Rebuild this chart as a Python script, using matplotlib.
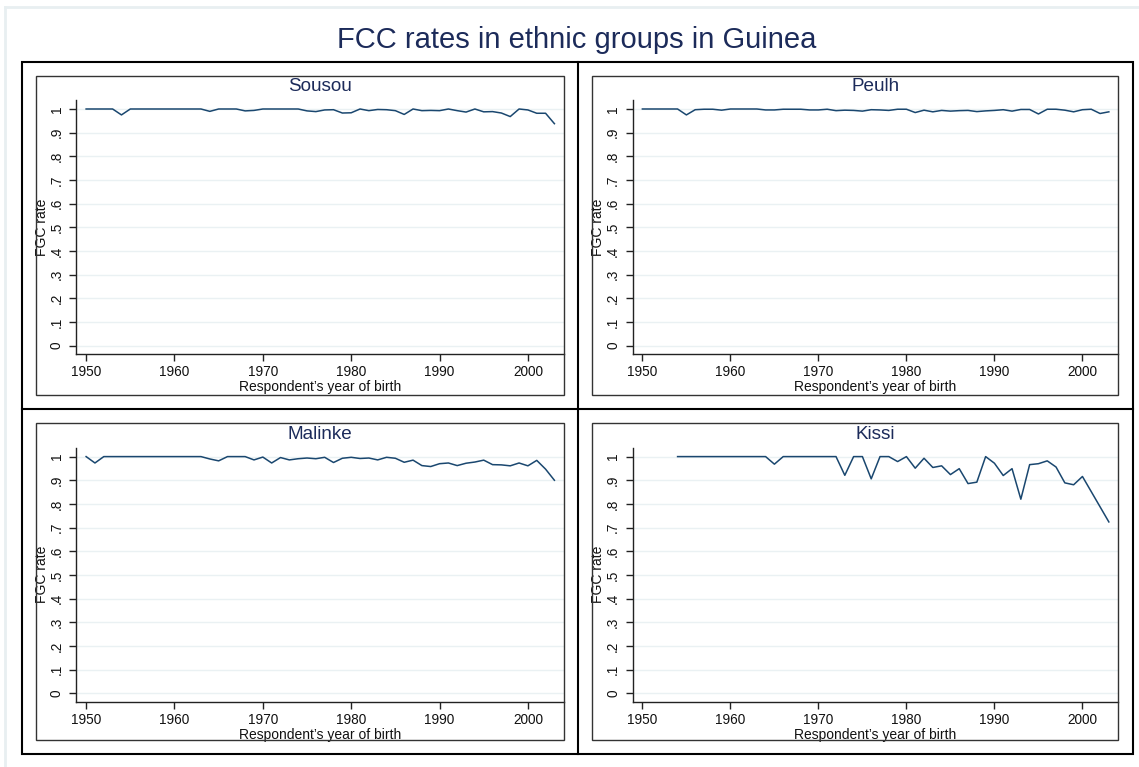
import numpy as np
import matplotlib.pyplot as plt
from matplotlib.patches import Rectangle
from matplotlib.lines import Line2D

plt.rcParams['font.family'] = ['Liberation Sans', 'DejaVu Sans']

# data
years = list(range(1950, 2004))
sousou = [1, 1, 1, 1, .975, 1, 1, 1, 1, 1,
          1, 1, 1, 1, .99, 1, 1, 1, .992, .994,
          1, 1, 1, 1, 1, .992, .989, .996, .997, .983,
          .984, 1, .993, .998, .997, .993, .977, 1, .993, .994,
          .993, 1, .993, .987, 1, .988, .989, .983, .968, 1,
          .996, .982, .982, .938]
peulh = [1, 1, 1, 1, 1, .975, .997, .999, .999, .995,
         1, 1, 1, 1, .996, .996, .999, .999, .999, .996,
         .996, .999, .993, .995, .994, .991, .997, .996, .994, .999,
         .999, .985, .995, .988, .994, .991, .993, .994, .989, .992,
         .994, .997, .991, .998, .998, .979, .999, .999, .995, .988,
         .997, .999, .981, .988]
malinke = [1, .973, 1, 1, 1, 1, 1, 1, 1, 1,
           1, 1, 1, 1, .99, .982, 1, 1, 1, .986,
           .998, .973, .996, .986, .991, .994, .991, .997, .975, .993,
           .997, .992, .994, .986, .997, .993, .976, .985, .962, .958,
           .97, .973, .962, .972, .977, .985, .966, .965, .961, .973,
           .961, .984, .947, .9]
kissi = [np.nan, np.nan, np.nan, np.nan, 1, 1, 1, 1, 1, 1,
         1, 1, 1, 1, 1, .968, 1, 1, 1, 1,
         1, 1, 1, .921, 1, 1, .906, 1, 1, .979,
         1, .951, .993, .954, .961, .924, .949, .886, .892, 1,
         .972, .92, .949, .82, .966, .97, .982, .956, .889, .881,
         .916, .852, .788, .724]

groups = ['Sousou', 'Peulh', 'Malinke', 'Kissi']
series = [sousou, peulh, malinke, kissi]
yticks = [i / 10 for i in range(11)]
ylabels = ['0', '.1', '.2', '.3', '.4', '.5', '.6', '.7', '.8', '.9', '1']
xticks = [1950, 1960, 1970, 1980, 1990, 2000]

W, H = 1139, 767
navy = '#1c2b5a'
line_col = '#1a476f'
grid_col = '#eaf1f3'

fig = plt.figure(figsize=(W / 100, H / 100), dpi=100)


def fx(x):
    return x / W


def fy(y):
    return 1 - y / H


# light outer region edge
fig.add_artist(Line2D([fx(5), fx(5)], [fy(7), 0], color='#e8eff1', lw=2))
fig.add_artist(Line2D([fx(5), 1], [fy(7), fy(7)], color='#e8eff1', lw=2))

fig.text(fx(577), fy(40), 'FCC rates in ethnic groups in Guinea',
         ha='center', va='center', fontsize=21, color=navy)

col_x = [22, 578.3]
col_w = [556.3, 554.4]
row_y = [61.7, 409.3]
row_h = [347.6, 345]

for i, (name, vals) in enumerate(zip(groups, series)):
    r, c = divmod(i, 2)
    cx, cy, cw, ch = col_x[c], row_y[r], col_w[c], row_h[r]

    # inner frame of the panel
    fl, ft = cx + 14, cy + 14
    fr, fb = cx + cw - 14.7, cy + ch - 14.3
    fig.add_artist(Rectangle((fx(fl), fy(fb)), fx(fr - fl), (fb - ft) / H,
                             fill=False, ec='#333333', lw=1))

    # plot region
    al, ar = cx + 54.4, fr
    at, ab = cy + 38.3, cy + 292.3
    ax = fig.add_axes([fx(al), fy(ab), fx(ar - al), (ab - at) / H])
    ax.plot(years, vals, color=line_col, lw=1.1)
    ax.set_xlim(1948.9, 2004.04)
    ax.set_ylim(-0.035, 1.038)
    ax.set_yticks(yticks)
    ax.set_yticklabels(ylabels, rotation=90, va='center')
    ax.set_xticks(xticks)
    ax.grid(axis='y', color=grid_col, lw=1)
    ax.set_axisbelow(True)
    for s in ['top', 'right']:
        ax.spines[s].set_visible(False)
    for s in ['left', 'bottom']:
        ax.spines[s].set_color('#222222')
        ax.spines[s].set_linewidth(1)
    ax.tick_params(axis='both', length=5, width=1, color='#222222',
                   labelsize=9.8, labelcolor='#111111', pad=3)
    ax.tick_params(axis='y', pad=4)
    ax.set_xlabel('Respondent\u2019s year of birth', fontsize=10,
                  color='#111111', labelpad=1)
    ax.set_ylabel('FGC rate', fontsize=10, color='#111111', labelpad=1)
    fig.text(fx((al + ar) / 2), fy(cy + 25), name,
             ha='center', va='center', fontsize=13.6, color=navy)

# outer box and separators
fig.add_artist(Rectangle((fx(22), fy(754.3)), fx(1132.7 - 22),
                         (754.3 - 61.7) / H, fill=False, ec='black', lw=1.5))
fig.add_artist(Line2D([fx(578.3)] * 2, [fy(61.7), fy(754.3)],
                      color='black', lw=1.5))
fig.add_artist(Line2D([fx(22), fx(1132.7)], [fy(409.3)] * 2,
                      color='black', lw=1.5))

fig.savefig('out.png', dpi=100, facecolor='white')
